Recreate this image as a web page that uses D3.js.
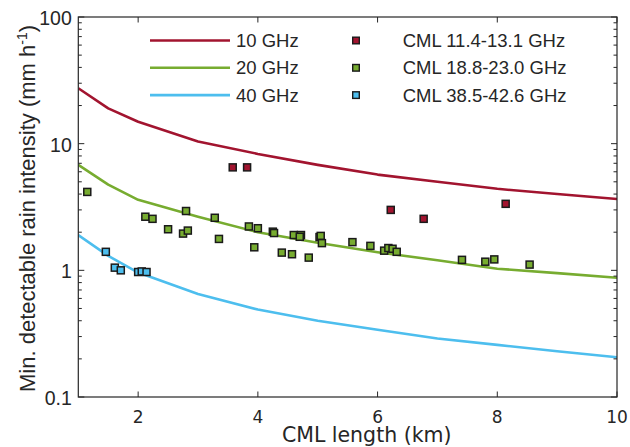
<!DOCTYPE html>
<html>
<head>
<meta charset="utf-8">
<script src="https://cdn.jsdelivr.net/npm/d3@7"></script>
<style>
  html, body { margin: 0; padding: 0; background: #fff; }
  svg { display: block; }
</style>
</head>
<body>
<svg id="chart" width="630" height="447"></svg>
<script>
// ---- data ----
const curveLengths = [1, 1.5, 2, 3, 4, 5, 6, 7, 8, 9, 10];
const curve10GHz = [27.4, 19.0, 14.9, 10.4, 8.3, 6.8, 5.7, 5.0, 4.4, 4.0, 3.66];
const curve20GHz = [6.8, 4.75, 3.6, 2.65, 2.0, 1.65, 1.39, 1.2, 1.03, 0.95, 0.875];
const curve40GHz = [1.9, 1.3, 0.96, 0.65, 0.49, 0.40, 0.34, 0.29, 0.258, 0.23, 0.206];

const cmlRedLength = [3.58, 3.82, 6.22, 6.77, 8.14];
const cmlRedValue  = [6.5, 6.5, 3.0, 2.55, 3.35];

const cmlGreenLength = [1.15, 2.12, 2.24, 2.5, 2.8, 2.75, 2.83, 3.28, 3.35, 3.85, 4.0, 3.94,
  4.25, 4.27, 4.4, 4.57, 4.6, 4.72, 4.7, 4.85, 5.03, 5.05, 5.07, 5.58, 5.88, 6.11, 6.18,
  6.25, 6.32, 7.41, 7.8, 7.95, 8.54];
const cmlGreenValue = [4.16, 2.65, 2.55, 2.11, 2.94, 1.95, 2.06, 2.6, 1.77, 2.22, 2.15, 1.52,
  2.02, 1.97, 1.38, 1.34, 1.9, 1.9, 1.84, 1.26, 1.83, 1.87, 1.64, 1.67, 1.56, 1.43, 1.5,
  1.48, 1.40, 1.21, 1.17, 1.22, 1.11];

const cmlBlueLength = [1.46, 1.61, 1.71, 2.0, 2.06, 2.14];
const cmlBlueValue  = [1.40, 1.05, 1.0, 0.97, 0.98, 0.97];

const xTicks = [2, 4, 6, 8, 10];
const yTicks = [0.1, 1, 10, 100];
const yTickLabels = ["0.1", "1", "10", "100"];
const lineLabels = ["10 GHz", "20 GHz", "40 GHz"];
const pointLabels = ["CML 11.4-13.1 GHz", "CML 18.8-23.0 GHz", "CML 38.5-42.6 GHz"];
const colors = ["#A2142F", "#77AC30", "#4DBEEE"];

// ---- layout ----
const svg = d3.select("#chart");
const pL = 78.3, pR = 617, pT = 17, pB = 397;
const x = d3.scaleLinear().domain([1, 10]).range([pL, pR]);
const y = d3.scaleLog().domain([0.1, 100]).range([pB, pT]);

const axisColor = "#262626";
const arial = "'Liberation Sans', Arial, sans-serif";
const dejavu = "'DejaVu Sans', Verdana, sans-serif";

// clip
svg.append("clipPath").attr("id", "clip").append("rect")
  .attr("x", pL).attr("y", pT).attr("width", pR - pL).attr("height", pB - pT);

// curves
const curves = [curve10GHz, curve20GHz, curve40GHz];
const line = d3.line().x(d => x(d[0])).y(d => y(d[1]));
const gLines = svg.append("g").attr("clip-path", "url(#clip)");
curves.forEach((c, i) => {
  gLines.append("path")
    .datum(curveLengths.map((L, j) => [L, c[j]]))
    .attr("d", line)
    .attr("fill", "none")
    .attr("stroke", colors[i])
    .attr("stroke-width", 2.6)
    .attr("stroke-linejoin", "round");
});

// points
const pointSets = [
  [cmlRedLength, cmlRedValue],
  [cmlGreenLength, cmlGreenValue],
  [cmlBlueLength, cmlBlueValue]
];
const ms = 7;
const gPts = svg.append("g");
pointSets.forEach((ps, i) => {
  const data = ps[0].map((L, j) => [L, ps[1][j]]);
  gPts.selectAll(null).data(data).enter().append("rect")
    .attr("x", d => x(d[0]) - ms / 2)
    .attr("y", d => y(d[1]) - ms / 2)
    .attr("width", ms).attr("height", ms)
    .attr("fill", colors[i])
    .attr("stroke", "#1a1a1a")
    .attr("stroke-width", 1.5);
});

// axes box
const gAx = svg.append("g");
gAx.append("rect")
  .attr("x", pL).attr("y", pT).attr("width", pR - pL).attr("height", pB - pT)
  .attr("fill", "none").attr("stroke", axisColor).attr("stroke-width", 1.2);

// x ticks (bottom + top, inward)
xTicks.forEach(t => {
  gAx.append("line").attr("x1", x(t)).attr("x2", x(t)).attr("y1", pB).attr("y2", pB - 5.5)
    .attr("stroke", axisColor).attr("stroke-width", 1);
  gAx.append("line").attr("x1", x(t)).attr("x2", x(t)).attr("y1", pT).attr("y2", pT + 5.5)
    .attr("stroke", axisColor).attr("stroke-width", 1);
  gAx.append("text").attr("x", x(t)).attr("y", pB + 25.5)
    .attr("text-anchor", "middle").attr("font-family", dejavu).attr("font-size", 17)
    .attr("fill", axisColor).text(d3.format("d")(t));
});

// y ticks (major + minor, left + right, inward)
const yMinor = [];
[0.1, 1, 10].forEach(d => { for (let k = 2; k <= 9; k++) yMinor.push(d * k); });
yTicks.forEach((t, i) => {
  gAx.append("line").attr("x1", pL).attr("x2", pL + 6).attr("y1", y(t)).attr("y2", y(t))
    .attr("stroke", axisColor).attr("stroke-width", 1);
  gAx.append("line").attr("x1", pR).attr("x2", pR - 6).attr("y1", y(t)).attr("y2", y(t))
    .attr("stroke", axisColor).attr("stroke-width", 1);
  gAx.append("text").attr("x", pL - 6.5).attr("y", y(t) + 8)
    .attr("text-anchor", "end").attr("font-family", arial).attr("font-size", 19.5)
    .attr("fill", axisColor).text(yTickLabels[i]);
});
yMinor.forEach(t => {
  gAx.append("line").attr("x1", pL).attr("x2", pL + 3.5).attr("y1", y(t)).attr("y2", y(t))
    .attr("stroke", axisColor).attr("stroke-width", 1);
  gAx.append("line").attr("x1", pR).attr("x2", pR - 3.5).attr("y1", y(t)).attr("y2", y(t))
    .attr("stroke", axisColor).attr("stroke-width", 1);
});

// axis labels
svg.append("text").attr("x", 366.7).attr("y", 442)
  .attr("text-anchor", "middle").attr("font-family", dejavu).attr("font-size", 20.5)
  .attr("fill", axisColor).text("CML length (km)");

const yl = svg.append("text")
  .attr("transform", "translate(35," + ((pT + pB) / 2 + 1.5) + ") rotate(-90)")
  .attr("text-anchor", "middle").attr("font-family", arial).attr("font-size", 22)
  .attr("fill", axisColor);
yl.append("tspan").text("Min. detectable rain intensity (mm h");
yl.append("tspan").attr("font-size", 14).attr("dy", -8).text("-1");
yl.append("tspan").attr("dy", 8).text(")");

// legend
const legY = [40.5, 67.8, 95.1];
lineLabels.forEach((lab, i) => {
  svg.append("line").attr("x1", 150).attr("x2", 230).attr("y1", legY[i]).attr("y2", legY[i])
    .attr("stroke", colors[i]).attr("stroke-width", 2.6);
  svg.append("text").attr("x", 236).attr("y", legY[i] + 6.6)
    .attr("font-family", arial).attr("font-size", 18.5).attr("fill", axisColor).text(lab);
});
pointLabels.forEach((lab, i) => {
  svg.append("rect").attr("x", 356 - 3.3).attr("y", legY[i] - 3.3).attr("width", 6.6).attr("height", 6.6)
    .attr("fill", colors[i]).attr("stroke", "#1a1a1a").attr("stroke-width", 1.4);
  svg.append("text").attr("x", 402.7).attr("y", legY[i] + 6.6)
    .attr("font-family", arial).attr("font-size", 18.5).attr("fill", axisColor).text(lab);
});
</script>
</body>
</html>
